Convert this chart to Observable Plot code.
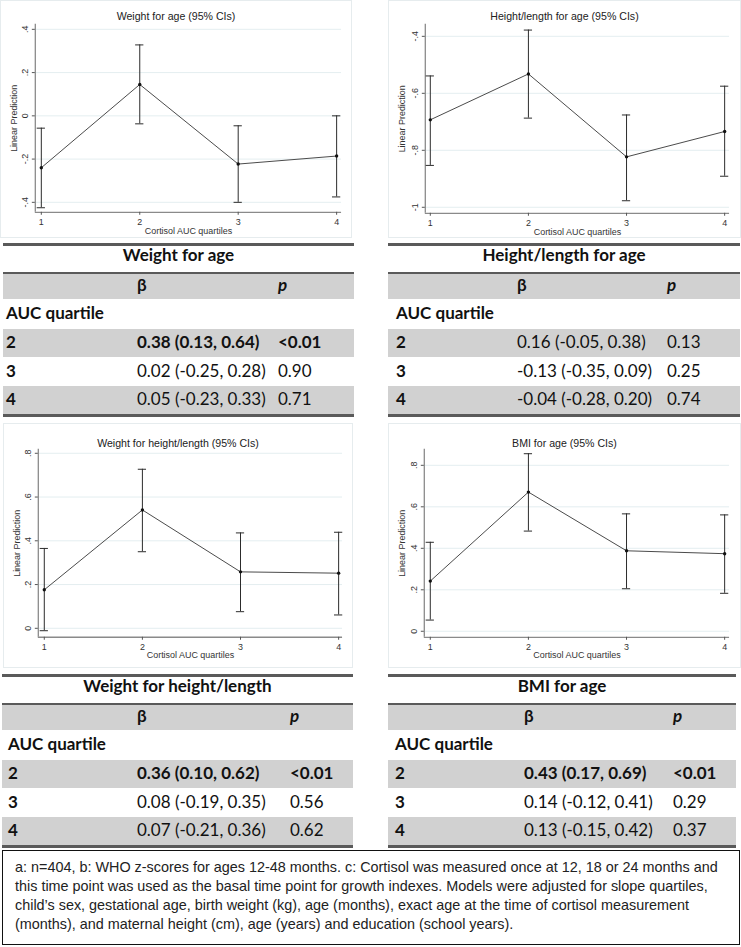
<!DOCTYPE html>
<html>
<head>
<meta charset="utf-8">
<script src="https://cdn.jsdelivr.net/npm/d3@7"></script>
<script src="https://cdn.jsdelivr.net/npm/@observablehq/plot@0.6"></script>
<style>
  html, body { margin: 0; padding: 0; background: #fff; }
  body { width: 741px; height: 947px; position: relative; overflow: hidden; }
  .panel { position: absolute; background: #fff; border: 1px solid #e6ecee; box-sizing: border-box; }
  .panel svg { position: absolute; left: 0; top: 0; }
  .ptitle { position: absolute; left: 0; right: 0; text-align: center; font: 10.6px "Liberation Sans", Arial, sans-serif; color: #222; height: 14px; line-height: 14px; }
  .tbl { position: absolute; font-family: Lato, "Open Sans", sans-serif; font-size: 17px; color: #111; }
  .tbl div { position: absolute; }
  .txt { height: 24px; line-height: 24px; white-space: nowrap; }
  .note { position: absolute; left: 2px; top: 850px; width: 738px; height: 95px; border: 1.5px solid #111; box-sizing: border-box;
          font: 14.4px "Liberation Sans", Arial, sans-serif; color: #222; padding: 7px 0 0 12px; line-height: 19px; white-space: nowrap; }
</style>
</head>
<body>
<script>
// ---------- data ----------
const quartiles = [1, 2, 3, 4];

const wfaEst = [-0.240, 0.145, -0.223, -0.186];
const wfaLo  = [-0.425, -0.037, -0.400, -0.375];
const wfaHi  = [-0.057, 0.328, -0.046, 0.000];
const wfaTicks = [-0.4, -0.2, 0, 0.2, 0.4];

const hfaEst = [-0.693, -0.532, -0.823, -0.734];
const hfaLo  = [-0.853, -0.687, -0.977, -0.891];
const hfaHi  = [-0.539, -0.378, -0.676, -0.575];
const hfaTicks = [-1, -0.8, -0.6, -0.4];

const wfhEst = [0.176, 0.541, 0.258, 0.252];
const wfhLo  = [-0.011, 0.350, 0.076, 0.061];
const wfhHi  = [0.365, 0.727, 0.436, 0.439];
const wfhTicks = [0, 0.2, 0.4, 0.6, 0.8];

const bmiEst = [0.242, 0.671, 0.388, 0.374];
const bmiLo  = [0.054, 0.483, 0.205, 0.183];
const bmiHi  = [0.429, 0.856, 0.566, 0.561];
const bmiTicks = [0, 0.2, 0.4, 0.6, 0.8];

const chartTitles = ["Weight for age (95% CIs)", "Height/length for age (95% CIs)", "Weight for height/length (95% CIs)", "BMI for age (95% CIs)"];
const xAxisLabel = "Cortisol AUC quartiles";
const yAxisLabel = "Linear Prediction";

const tableTitles = ["Weight for age", "Height/length for age", "Weight for height/length", "BMI for age"];
const headerBeta = "β";
const headerP = "p";
const groupLabel = "AUC quartile";
const rowLabels = ["2", "3", "4"];
const wfaBeta = ["0.38 (0.13, 0.64)", "0.02 (-0.25, 0.28)", "0.05 (-0.23, 0.33)"];
const wfaP    = ["<0.01", "0.90", "0.71"];
const hfaBeta = ["0.16 (-0.05, 0.38)", "-0.13 (-0.35, 0.09)", "-0.04 (-0.28, 0.20)"];
const hfaP    = ["0.13", "0.25", "0.74"];
const wfhBeta = ["0.36 (0.10, 0.62)", "0.08 (-0.19, 0.35)", "0.07 (-0.21, 0.36)"];
const wfhP    = ["<0.01", "0.56", "0.62"];
const bmiBeta = ["0.43 (0.17, 0.69)", "0.14 (-0.12, 0.41)", "0.13 (-0.15, 0.42)"];
const bmiP    = ["<0.01", "0.29", "0.37"];

const noteLines = [
  "a: n=404, b: WHO z-scores for ages 12-48 months. c: Cortisol was measured once at 12, 18 or 24 months and",
  "this time point was used as the basal time point for growth indexes. Models were adjusted for slope quartiles,",
  "child\u2019s sex, gestational age, birth weight (kg), age (months), exact age at the time of cortisol measurement",
  "(months), and maternal height (cm), age (years) and education (school years)."
];

// ---------- layout ----------
const panels = [
  {left: 0,   top: 0,   w: 352, h: 238, ml: 34, mr: 10, mt: 23, mb: 26, xd: [0.939, 4.05], yd: [-0.446, 0.423], ty: 8,  est: wfaEst, lo: wfaLo, hi: wfaHi, ticks: wfaTicks},
  {left: 388, top: 0,   w: 353, h: 238, ml: 36, mr: 11, mt: 23, mb: 25, xd: [0.949, 4.05], yd: [-1.021, -0.358], ty: 8, est: hfaEst, lo: hfaLo, hi: hfaHi, ticks: hfaTicks},
  {left: 3,   top: 423, w: 350, h: 245, ml: 34, mr: 10, mt: 25, mb: 31, xd: [0.939, 4.04], yd: [-0.041, 0.818], ty: 12, est: wfhEst, lo: wfhLo, hi: wfhHi, ticks: wfhTicks},
  {left: 388, top: 423, w: 353, h: 245, ml: 35, mr: 11, mt: 25, mb: 31, xd: [0.939, 4.05], yd: [-0.029, 0.877], ty: 12, est: bmiEst, lo: bmiLo, hi: bmiHi, ticks: bmiTicks}
];

const fmt = d => String(+(+d).toFixed(2)).replace(/^(-?)0\./, "$1.");
const capHalf = 0.042;

panels.forEach((p, i) => {
  const data = quartiles.map((q, j) => ({q, est: p.est[j], lo: p.lo[j], hi: p.hi[j]}));
  const div = document.createElement("div");
  div.className = "panel";
  Object.assign(div.style, {left: p.left + "px", top: p.top + "px", width: p.w + "px", height: p.h + "px"});
  const svg = Plot.plot({
    width: p.w, height: p.h,
    marginLeft: p.ml, marginRight: p.mr, marginTop: p.mt, marginBottom: p.mb,
    style: {fontFamily: "'Liberation Sans', Arial, sans-serif", fontSize: "9px", background: "transparent", color: "#333", overflow: "visible"},
    x: {domain: p.xd},
    y: {domain: p.yd},
    marks: [
      Plot.gridY(p.ticks, {stroke: "#e4eef0", strokeOpacity: 1, strokeWidth: 1}),
      Plot.ruleX([p.xd[0]], {stroke: "#8a8a8a", strokeWidth: 1.3}),
      Plot.ruleY([p.yd[0]], {stroke: "#8a8a8a", strokeWidth: 1.3}),
      Plot.axisY(p.ticks, {tickFormat: fmt, tickSize: 3, tickPadding: 4, tickRotate: -90, textAnchor: "middle", lineAnchor: "bottom",
        stroke: "#555", label: yAxisLabel, labelArrow: "none", labelAnchor: "center", labelOffset: p.ml - 9.5}),
      Plot.axisX(quartiles, {tickFormat: d => String(d), tickSize: 3, tickPadding: 3, stroke: "#555",
        label: xAxisLabel, labelArrow: "none", labelAnchor: "center", labelOffset: p.h - p.mb > 213 ? 21 : 22}),
      Plot.ruleX(data, {x: "q", y1: "lo", y2: "hi", stroke: "#2a2a2a", strokeWidth: 1}),
      Plot.ruleY(data, {y: "lo", x1: d => d.q - capHalf, x2: d => d.q + capHalf, stroke: "#2a2a2a", strokeWidth: 1}),
      Plot.ruleY(data, {y: "hi", x1: d => d.q - capHalf, x2: d => d.q + capHalf, stroke: "#2a2a2a", strokeWidth: 1}),
      Plot.line(data, {x: "q", y: "est", stroke: "#4a4a4a", strokeWidth: 1}),
      Plot.dot(data, {x: "q", y: "est", r: 1.7, fill: "#111", stroke: "none"})
    ]
  });
  div.appendChild(svg);
  const t = document.createElement("div");
  t.className = "ptitle";
  t.style.top = p.ty + "px";
  t.textContent = chartTitles[i];
  div.appendChild(t);
  document.body.appendChild(div);
});

// ---------- tables ----------
const tables = [
  {left: 3,   top: 243, w: 351, lx: 3,  bx: 134, px: 275, title: tableTitles[0], beta: wfaBeta, p: wfaP},
  {left: 388, top: 243, w: 352, lx: 8,  bx: 129, px: 279, title: tableTitles[1], beta: hfaBeta, p: hfaP},
  {left: 2,   top: 674, w: 351, lx: 6,  bx: 135, px: 288, title: tableTitles[2], beta: wfhBeta, p: wfhP},
  {left: 388, top: 674, w: 348, lx: 7,  bx: 136, px: 285, title: tableTitles[3], beta: bmiBeta, p: bmiP}
];
const GRAY = "#d1d1d1", RULE = "#5a5a5a";

tables.forEach(t => {
  const c = document.createElement("div");
  c.className = "tbl";
  Object.assign(c.style, {left: t.left + "px", top: t.top + "px", width: t.w + "px", height: "175px"});
  const add = (style, text, cls) => {
    const d = document.createElement("div");
    if (cls) d.className = cls;
    Object.assign(d.style, style);
    if (text != null) d.textContent = text;
    c.appendChild(d);
    return d;
  };
  const W = t.w + "px";
  add({left: 0, top: "0px", width: W, height: "2.5px", background: RULE});
  add({left: 0, top: "29px", width: W, height: "27px", background: GRAY, borderTop: "2px solid " + RULE, boxSizing: "border-box"});
  add({left: 0, top: "86px", width: W, height: "28px", background: GRAY});
  add({left: 0, top: "143px", width: W, height: "28px", background: GRAY});
  add({left: 0, top: "171px", width: W, height: "2.5px", background: RULE});
  const txt = (x, cy, s, extra) => add(Object.assign({left: x + "px", top: (cy - 12) + "px"}, extra || {}), s, "txt");
  add({left: 0, top: "0px", width: W, textAlign: "center", fontWeight: "bold"}, t.title, "txt");
  txt(t.bx, 42, headerBeta, {fontWeight: "bold"});
  txt(t.px, 42, headerP, {fontWeight: "bold", fontStyle: "italic"});
  txt(t.lx, 70, groupLabel, {fontWeight: "bold"});
  [99, 128, 156].forEach((cy, r) => {
    const bold = t.p[r].startsWith("<");
    txt(t.lx, cy, rowLabels[r], {fontWeight: "bold"});
    txt(t.bx, cy, t.beta[r], {fontWeight: bold ? "bold" : "normal"});
    txt(t.px, cy, t.p[r], {fontWeight: bold ? "bold" : "normal"});
  });
  document.body.appendChild(c);
});

// ---------- note ----------
const note = document.createElement("div");
note.className = "note";
noteLines.forEach(l => { const d = document.createElement("div"); d.textContent = l; note.appendChild(d); });
document.body.appendChild(note);
</script>
</body>
</html>
